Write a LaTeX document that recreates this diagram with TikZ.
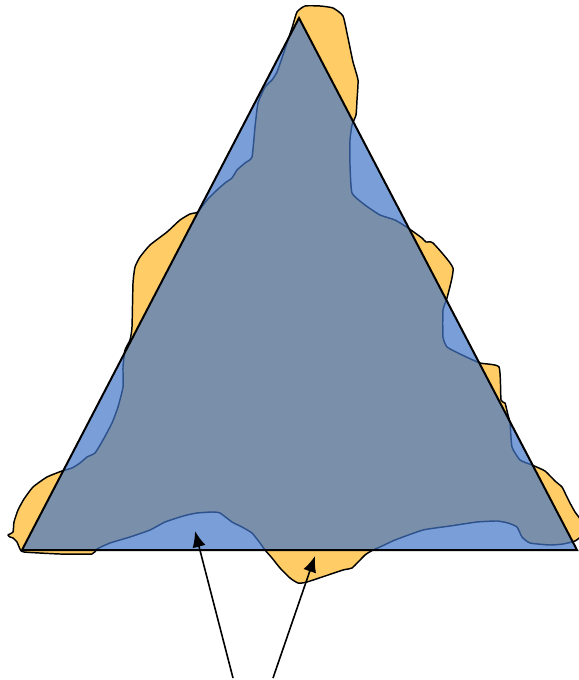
\documentclass[tikz,border=0pt]{standalone}
\usepackage{tikz}
\usetikzlibrary{arrows.meta}
\definecolor{blobyellow}{RGB}{255,204,102}
\definecolor{triblue}{RGB}{66,118,200}
\tikzset{
  blob/.style = {draw=black, line width=1.1pt, fill=blobyellow, line join=round},
  tri/.style = {fill=triblue, fill opacity=0.7},
  triedge/.style = {draw=black, line width=1.5pt, line join=miter},
  pointer/.style = {line width=1.2pt, -{Latex[length=12pt,width=10pt]}}
}
\begin{document}
\begin{tikzpicture}[x=0.75pt,y=-0.75pt]
            \useasboundingbox (0,0) rectangle (578,680);
            \coordinate (A) at (22,550);
            \coordinate (B) at (299,18);
            \coordinate (C) at (577,550);
            \draw[blob] plot[smooth cycle, tension=0.3] coordinates {
              (297,12) (305,6) (320,6) (333,8) (343,16) (348,38) (353,62) (358,80) (357,100) (356,115)
              (352,125) (350,140) (350,165) (352,193) (365,205) (380,215) (395,220) (408,228) (422,238)
              (426,242) (433,243) (453,268) (447,298) (443,310) (443,337) (447,347) (460,354) (480,363)
              (499,367) (501,400) (505,403) (508,415) (510,423) (512,447) (520,460) (532,465) (545,471)
              (555,481) (562,487) (566,495) (570,503) (575,512) (582,522) (582,535) (575,541) (563,544)
              (550,545) (530,543) (522,537) (517,527) (508,523) (497,521) (477,522) (450,526) (423,530)
              (395,540) (380,547) (373,550) (365,555) (352,568) (343,570) (307,582) (298,583) (290,578)
              (280,568) (272,558) (265,550) (260,543) (252,533) (242,527) (232,522) (220,513) (212,512)
              (197,513) (187,515) (180,517) (165,522) (150,530) (130,537) (110,543) (97,549) (92,554)
              (60,554) (24,552) (20,549) (17,542) (13,538) (10,537) (8,535) (13,532) (14,522) (18,510)
              (24,499) (33,487) (47,477) (62,471) (72,468) (80,463) (87,457) (95,453) (103,440) (112,423)
              (118,407) (123,387) (123,367) (125,350) (130,340) (132,327) (133,283) (135,267) (140,257)
              (150,245) (167,232) (180,220) (190,214) (195,213) (198,212) (207,200) (217,190) (225,183)
              (232,178) (237,170) (245,163) (252,157) (255,127) (258,103) (265,87) (272,80) (277,72)
              (282,58) (287,43) (292,28)};
            \fill[tri] (A) -- (B) -- (C) -- cycle;
            \draw[triedge] (A) -- (B) -- (C) -- cycle;
            \coordinate (pa) at (233,678);
            \coordinate (pb) at (273,678);
            \coordinate (ta) at (195,531);
            \coordinate (tb) at (315,556);
            \draw[pointer] (pa) -- (ta);
            \draw[pointer] (pb) -- (tb);
        \end{tikzpicture}
\end{document}
